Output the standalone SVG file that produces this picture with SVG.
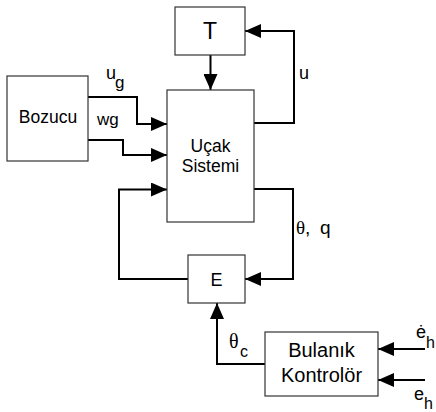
<svg xmlns="http://www.w3.org/2000/svg" width="436" height="412" viewBox="0 0 436 412">
<style>
.box{fill:#fff;stroke:#333;stroke-width:1.2}
.ln{fill:none;stroke:#000;stroke-width:2;marker-end:url(#ah)}
text{font-family:"Liberation Sans",Arial,sans-serif;fill:#000}
.c{text-anchor:middle}
.sym{font-family:"Liberation Serif","Times New Roman",serif}
</style>
<defs>
<marker id="ah" viewBox="0 0 16 14" refX="16" refY="7" markerWidth="16" markerHeight="14" markerUnits="userSpaceOnUse" orient="auto">
<path d="M0,0 L16,7 L0,14 z" fill="#000"/>
</marker>
</defs>
<rect width="436" height="412" fill="#fff"/>
<g id="connectors">
<path class="ln" d="M210.5,55 V90"/>
<path class="ln" d="M254,123 H294 V31 H245"/>
<path class="ln" d="M254,189 H293 V279 H245"/>
<path class="ln" d="M188,279 H119 V189.5 H167"/>
<path class="ln" d="M265,364 H217 V303"/>
<path class="ln" d="M88,97 H137 V124 H167"/>
<path class="ln" d="M88,140 H123 V155 H167"/>
<path class="ln" d="M425,349 H378"/>
<path class="ln" d="M425,380 H378"/>
</g>
<g id="T">
<rect class="box" x="175" y="7" width="70" height="48"/>
<text class="c" x="210" y="39" font-size="23">T</text>
</g>
<g id="Bozucu">
<rect class="box" x="7" y="76" width="81" height="85"/>
<text class="c" x="48" y="123" font-size="17.5">Bozucu</text>
</g>
<g id="UcakSistemi">
<rect class="box" x="167" y="90" width="87" height="132"/>
<text class="c" x="210.5" y="152" font-size="17.5">Uçak</text>
<text class="c" x="210.5" y="172" font-size="17.5">Sistemi</text>
</g>
<g id="E">
<rect class="box" x="188" y="255" width="57" height="48"/>
<text class="c" x="216.5" y="286" font-size="18">E</text>
</g>
<g id="BulanikKontrolor">
<rect class="box" x="265" y="332" width="113" height="64"/>
<text class="c" x="321.5" y="357" font-size="20">Bulanık</text>
<text class="c" x="321.5" y="382" font-size="20">Kontrolör</text>
</g>
<g id="labels">
<text x="106" y="79" font-size="18">u</text>
<text x="115" y="88" font-size="17">g</text>
<text x="97" y="125" font-size="17">wg</text>
<text x="299" y="79" font-size="18">u</text>
<text x="296" y="234" font-size="19"><tspan class="sym">θ</tspan>, <tspan x="320">q</tspan></text>
<text x="229" y="348" font-size="20" class="sym">θ</text>
<text x="240" y="357" font-size="16">c</text>
<text x="416" y="338" font-size="18">ė</text>
<text x="426" y="348" font-size="16">h</text>
<text x="414" y="400" font-size="18">e</text>
<text x="424" y="409" font-size="16">h</text>
</g>
</svg>
